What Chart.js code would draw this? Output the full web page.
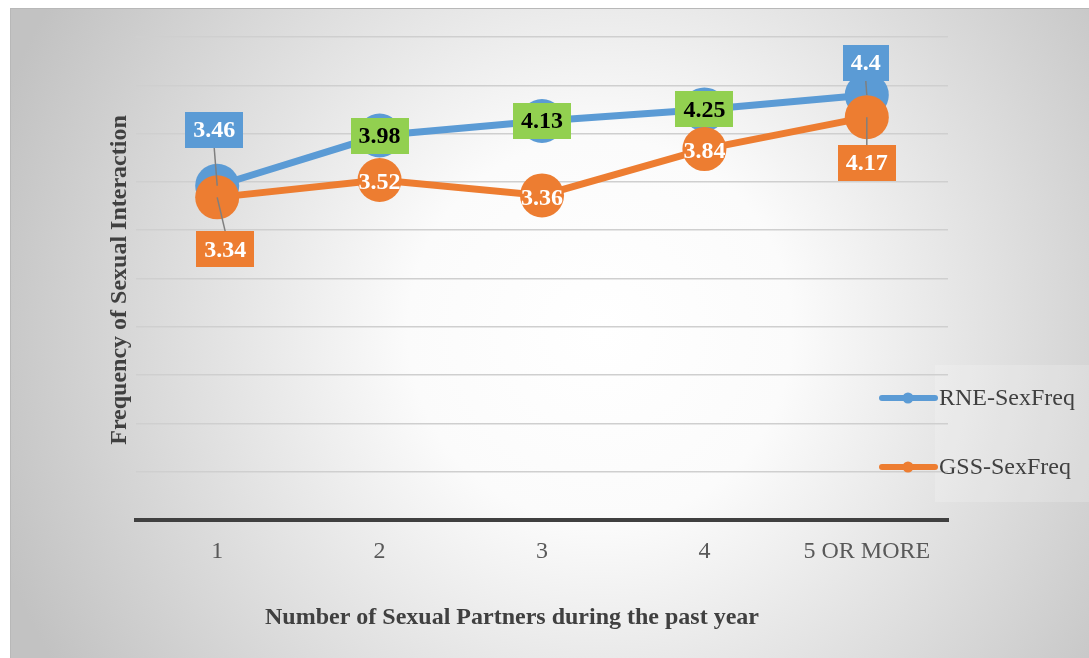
<!DOCTYPE html>
<html>
<head>
<meta charset="utf-8">
<script src="https://cdn.jsdelivr.net/npm/chart.js@4.4.1/dist/chart.umd.min.js"></script>
<style>
  html, body { margin: 0; padding: 0; background: #fff; }
  #wrap { width: 1089px; height: 658px; }
</style>
</head>
<body>
<div id="wrap"><canvas id="chart" width="1089" height="658"></canvas></div>
<script>
// partners in the past year vs. frequency of sexual interaction
const categories = ['1', '2', '3', '4', '5 OR MORE'];
const rneSexFreq = [3.46, 3.98, 4.13, 4.25, 4.4];
const gssSexFreq = [3.34, 3.52, 3.36, 3.84, 4.17];
const yMin = 0;
const yMax = 5;
const yStep = 0.5;

const BLUE = '#5B9BD5';
const ORANGE = '#ED7D31';
const GREEN = '#92D050';
const SERIF = '"Liberation Serif", "Times New Roman", serif';

// how each value label is drawn (box colour, offset from its point, leader line)
const rneLabelStyle = [
  { bg: BLUE, color: '#fff', dx: -3, dy: -56, leader: true },
  { bg: GREEN, color: '#000', dx: 0, dy: 0 },
  { bg: GREEN, color: '#000', dx: 0, dy: 0 },
  { bg: GREEN, color: '#000', dx: 0, dy: 0 },
  { bg: BLUE, color: '#fff', dx: -1, dy: -32, leader: true }
];
const gssLabelStyle = [
  { bg: ORANGE, color: '#fff', dx: 8, dy: 52, leader: true },
  { bg: null, color: '#fff', dx: 0, dy: 2 },
  { bg: null, color: '#fff', dx: 0, dy: 2 },
  { bg: null, color: '#fff', dx: 0, dy: 2 },
  { bg: ORANGE, color: '#fff', dx: 0, dy: 46, leader: true }
];

const backdrop = {
  id: 'backdrop',
  beforeDraw(chart) {
    const { ctx, width, height } = chart;
    ctx.save();
    ctx.fillStyle = '#fff';
    ctx.fillRect(0, 0, width, height);
    const g = ctx.createRadialGradient(600, 330, 0, 600, 330, 640);
    g.addColorStop(0, '#ffffff');
    g.addColorStop(0.3, '#fbfbfb');
    g.addColorStop(1, '#c2c2c2');
    ctx.fillStyle = g;
    ctx.fillRect(10, 8, width - 10, height - 8);
    ctx.strokeStyle = '#b8b8b8';
    ctx.lineWidth = 1;
    ctx.strokeRect(10.5, 8.5, width, height);
    // legend panel
    ctx.fillStyle = 'rgba(255,255,255,0.18)';
    ctx.fillRect(935, 365, width - 935, 137);
    ctx.restore();
  }
};

const valueLabels = {
  id: 'valueLabels',
  afterDatasetsDraw(chart) {
    const ctx = chart.ctx;
    ctx.save();
    ctx.font = 'bold 24px ' + SERIF;
    ctx.textAlign = 'center';
    ctx.textBaseline = 'middle';
    const items = [];
    chart.data.datasets.forEach((ds, di) => {
      chart.getDatasetMeta(di).data.forEach((pt, i) => {
        const st = ds.labelStyle[i];
        const text = String(ds.data[i]);
        const w = ctx.measureText(text).width + 16;
        items.push({ px: pt.x, py: pt.y, x: pt.x + st.dx, y: pt.y + st.dy, w, h: 36, text, st });
      });
    });
    // leader lines
    ctx.strokeStyle = '#7f7f7f';
    ctx.lineWidth = 1.5;
    items.forEach(it => {
      if (!it.st.leader) return;
      const edge = it.y < it.py ? it.y + it.h / 2 : it.y - it.h / 2;
      ctx.beginPath();
      ctx.moveTo(it.px, it.py);
      ctx.lineTo(it.x, edge);
      ctx.stroke();
    });
    items.forEach(it => {
      if (it.st.bg) {
        ctx.fillStyle = it.st.bg;
        ctx.fillRect(Math.round(it.x - it.w / 2), Math.round(it.y - it.h / 2), Math.round(it.w), it.h);
      }
      ctx.fillStyle = it.st.color;
      ctx.fillText(it.text, it.x, it.y + 1);
    });
    ctx.restore();
  }
};

const extras = {
  id: 'extras',
  afterDraw(chart) {
    const ctx = chart.ctx;
    ctx.save();
    // axis titles
    ctx.fillStyle = '#404040';
    ctx.font = 'bold 24px ' + SERIF;
    ctx.textAlign = 'center';
    ctx.textBaseline = 'middle';
    ctx.fillText('Number of Sexual Partners during the past year', 512, 618);
    ctx.translate(120, 280);
    ctx.rotate(-Math.PI / 2);
    ctx.fillText('Frequency of Sexual Interaction', 0, 0);
    ctx.setTransform(1, 0, 0, 1, 0, 0);
    // legend
    const rows = [398, 467];
    chart.data.datasets.forEach((ds, i) => {
      const y = rows[i];
      ctx.strokeStyle = ds.borderColor;
      ctx.lineWidth = 6;
      ctx.lineCap = 'round';
      ctx.beginPath();
      ctx.moveTo(882, y);
      ctx.lineTo(935, y);
      ctx.stroke();
      ctx.fillStyle = ds.borderColor;
      ctx.beginPath();
      ctx.arc(908, y, 5.5, 0, Math.PI * 2);
      ctx.fill();
      ctx.fillStyle = '#404040';
      ctx.font = '24px ' + SERIF;
      ctx.textAlign = 'left';
      ctx.fillText(ds.label, 939, y + 1);
    });
    ctx.restore();
  }
};

new Chart(document.getElementById('chart'), {
  type: 'line',
  data: {
    labels: categories,
    datasets: [
      {
        label: 'RNE-SexFreq',
        data: rneSexFreq,
        labelStyle: rneLabelStyle,
        borderColor: BLUE,
        backgroundColor: BLUE,
        borderWidth: 7,
        pointRadius: 22,
        pointBorderWidth: 0,
        order: 2
      },
      {
        label: 'GSS-SexFreq',
        data: gssSexFreq,
        labelStyle: gssLabelStyle,
        borderColor: ORANGE,
        backgroundColor: ORANGE,
        borderWidth: 7,
        pointRadius: 22,
        pointBorderWidth: 0,
        order: 1
      }
    ]
  },
  options: {
    responsive: false,
    devicePixelRatio: 1,
    animation: false,
    layout: { padding: { left: 0, top: 37, right: 141, bottom: 0 } },
    plugins: { legend: { display: false }, tooltip: { enabled: false } },
    scales: {
      x: {
        offset: true,
        grid: { display: false, drawTicks: false },
        border: { display: true, color: '#404040', width: 4 },
        ticks: { color: '#595959', padding: 17, font: { family: SERIF, size: 24 } },
        afterFit(scale) { scale.height = 138; }
      },
      y: {
        min: yMin,
        max: yMax,
        ticks: { display: false, stepSize: yStep },
        grid: { color: '#cfcfcf', lineWidth: 1.5, drawTicks: false },
        border: { display: false },
        afterFit(scale) { scale.width = 136; }
      }
    }
  },
  plugins: [backdrop, valueLabels, extras]
});
</script>
</body>
</html>
